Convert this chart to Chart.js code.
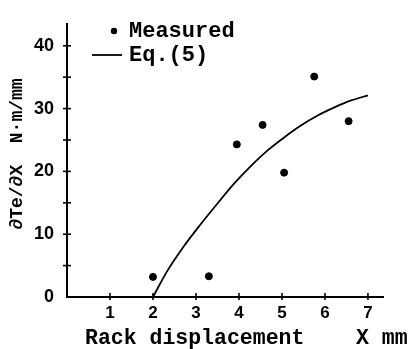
<!DOCTYPE html>
<html>
<head>
<meta charset="utf-8">
<script src="https://cdn.jsdelivr.net/npm/chart.js@4/dist/chart.umd.min.js"></script>
<style>
  html, body { margin: 0; padding: 0; background: #fff; }
  #wrap { width: 414px; height: 349px; position: relative; }
</style>
</head>
<body>
<div id="wrap"><canvas id="c" width="414" height="349"></canvas></div>
<script>
// ---- data ----
const measuredX = [2.0, 3.3, 3.95, 4.55, 5.05, 5.75, 6.55];
const measuredY = [3.2, 3.3, 24.3, 27.4, 19.8, 35.1, 28.0];
const eqX = [2.0, 2.32, 2.71, 3.1, 3.49, 3.88, 4.27, 4.66, 5.05, 5.44, 5.83, 6.22, 6.61, 7.0];
const eqY = [0, 4.0, 8.0, 11.5, 14.8, 18.0, 20.8, 23.3, 25.4, 27.3, 28.9, 30.2, 31.3, 32.1];
const xTickLabels = [1, 2, 3, 4, 5, 6, 7];
const yTickLabels = [0, 10, 20, 30, 40];
const yMinorTicks = [5, 15, 25, 35];
const legendLabels = ['Measured', 'Eq.(5)'];
const xTitle = 'Rack displacement    X mm';
const yTitle = '\u2202Te/\u2202X  N\u00B7m/mm';

const INK = '#000';
const MONO = "'Liberation Mono', 'DejaVu Sans Mono', monospace";
const SANS = "'Liberation Sans', Arial, sans-serif";

const decor = {
  id: 'decor',
  afterDraw(chart) {
    const ctx = chart.ctx;
    const xs = chart.scales.x, ys = chart.scales.y;
    const x0 = xs.getPixelForValue(0), y0 = ys.getPixelForValue(0);
    ctx.save();
    ctx.strokeStyle = INK;
    ctx.lineWidth = 1.6;
    // y ticks crossing the axis (major + minor)
    [...yTickLabels.filter(v => v !== 0), ...yMinorTicks].forEach(v => {
      const py = ys.getPixelForValue(v);
      ctx.beginPath(); ctx.moveTo(x0 - 4, py); ctx.lineTo(x0 + 4, py); ctx.stroke();
    });
    // x ticks crossing the axis
    xTickLabels.forEach(v => {
      const px = xs.getPixelForValue(v);
      ctx.beginPath(); ctx.moveTo(px, y0 - 4); ctx.lineTo(px, y0 + 3); ctx.stroke();
    });
    // legend
    ctx.fillStyle = INK;
    ctx.beginPath(); ctx.arc(114, 31, 3.2, 0, Math.PI * 2); ctx.fill();
    ctx.lineWidth = 1.8;
    ctx.beginPath(); ctx.moveTo(92, 55); ctx.lineTo(122, 55); ctx.stroke();
    ctx.font = 'bold 22px ' + MONO;
    ctx.textBaseline = 'alphabetic';
    ctx.textAlign = 'left';
    ctx.fillText(legendLabels[0], 129, 37);
    ctx.fillText(legendLabels[1], 129, 61);
    // x title
    ctx.font = 'bold 21.5px ' + MONO;
    ctx.fillText(xTitle, 85, 344);
    // y title
    ctx.translate(22, 154);
    ctx.rotate(-Math.PI / 2);
    ctx.font = 'bold 18px ' + MONO;
    ctx.textAlign = 'center';
    ctx.fillText(yTitle, 0, 0);
    ctx.restore();
  }
};

new Chart(document.getElementById('c'), {
  type: 'scatter',
  data: {
    datasets: [
      {
        label: legendLabels[0],
        data: measuredX.map((x, i) => ({ x, y: measuredY[i] })),
        backgroundColor: INK,
        borderColor: INK,
        pointRadius: 3.5,
        pointHoverRadius: 3.5,
        showLine: false
      },
      {
        label: legendLabels[1],
        type: 'line',
        data: eqX.map((x, i) => ({ x, y: eqY[i] })),
        borderColor: INK,
        borderWidth: 1.8,
        pointRadius: 0,
        fill: false,
        cubicInterpolationMode: 'monotone'
      }
    ]
  },
  options: {
    responsive: false,
    animation: false,
    events: [],
    layout: { padding: { left: 0, right: 31, top: 10, bottom: 0 } },
    plugins: { legend: { display: false }, tooltip: { enabled: false } },
    scales: {
      x: {
        type: 'linear',
        min: 0, max: 7.35,
        afterBuildTicks: s => { s.ticks = xTickLabels.map(v => ({ value: v })); },
        afterFit: s => { s.height = 52; },
        grid: { display: false, drawTicks: false },
        border: { display: true, color: INK, width: 2 },
        ticks: { color: INK, padding: 6, font: { family: SANS, size: 17, weight: 'bold' }, maxRotation: 0 }
      },
      y: {
        type: 'linear',
        min: 0, max: 43.5,
        afterBuildTicks: s => { s.ticks = yTickLabels.map(v => ({ value: v })); },
        afterFit: s => { s.width = 67; },
        grid: { display: false, drawTicks: false },
        border: { display: true, color: INK, width: 2 },
        ticks: { color: INK, padding: 13, font: { family: SANS, size: 18, weight: 'bold' } }
      }
    }
  },
  plugins: [decor]
});
</script>
</body>
</html>
